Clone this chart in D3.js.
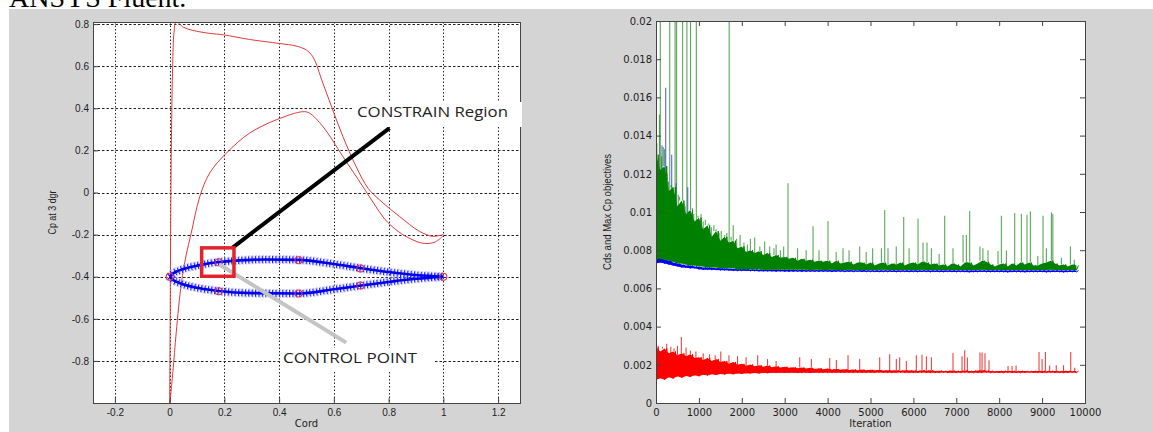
<!DOCTYPE html>
<html>
<head>
<meta charset="utf-8">
<script src="https://cdn.jsdelivr.net/npm/d3@7"></script>
<style>
  body { margin: 0; background: #fff; }
  svg { display: block; font-family: "DejaVu Sans", sans-serif; }
</style>
</head>
<body>
<svg width="1153" height="432"></svg>
<script>
// ---------- left chart: Cp distribution and airfoil ----------
const cordTicks = [-0.2, 0, 0.2, 0.4, 0.6, 0.8, 1, 1.2]
const cpTicks = [-0.8, -0.6, -0.4, -0.2, 0, 0.2, 0.4, 0.6, 0.8]

// Cp curve that peaks near the leading edge
const cpUpper = [[0, -1.0], [0.002, -0.6], [0.004, -0.1], [0.007, 0.3], [0.011, 0.6], [0.016, 0.76],
  [0.024, 0.812], [0.05, 0.785], [0.085, 0.77], [0.146, 0.756], [0.197, 0.749], [0.292, 0.727],
  [0.401, 0.708], [0.462, 0.696], [0.499, 0.677], [0.523, 0.645], [0.56, 0.519], [0.596, 0.392],
  [0.633, 0.266], [0.681, 0.124], [0.725, 0.02], [0.766, -0.034], [0.839, -0.113], [0.912, -0.184],
  [0.96, -0.208], [1.0, -0.2]]
// Cp curve with the mid-chord peak
const cpLower = [[0.001, -1.0], [0.012, -0.85], [0.024, -0.666], [0.043, -0.429], [0.06, -0.3],
  [0.079, -0.192], [0.11, -0.02], [0.146, 0.092], [0.207, 0.187], [0.292, 0.282], [0.389, 0.345],
  [0.487, 0.384], [0.511, 0.377], [0.56, 0.313], [0.633, 0.171], [0.705, 0.03], [0.745, -0.05],
  [0.785, -0.125], [0.835, -0.185], [0.885, -0.223], [0.93, -0.242], [0.97, -0.235], [1.0, -0.205]]

const foilUpper = [[0, -0.4], [0.012, -0.385], [0.036, -0.37], [0.11, -0.345], [0.18, -0.33],
  [0.23, -0.325], [0.35, -0.318], [0.47, -0.32], [0.6, -0.34], [0.7, -0.36], [0.8, -0.378],
  [0.9, -0.392], [1.0, -0.4]]
const foilLower = [[0, -0.4], [0.012, -0.415], [0.036, -0.43], [0.11, -0.455], [0.18, -0.468],
  [0.3, -0.478], [0.47, -0.48], [0.6, -0.46], [0.7, -0.442], [0.8, -0.425], [0.9, -0.41], [1.0, -0.4]]
const controlPoints = [[0, -0.4], [0.179, -0.331], [0.471, -0.322], [0.697, -0.361], [1.0, -0.4],
  [0.179, -0.469], [0.471, -0.48], [0.697, -0.442]]

// ---------- right chart: objectives history (values x 1e-3) ----------
const iterTicks = [0, 1000, 2000, 3000, 4000, 5000, 6000, 7000, 8000, 9000, 10000]
const objTicks = [0, 2, 4, 6, 8, 10, 12, 14, 16, 18, 20]
const iters = d3.range(0, 9900, 100)

const greenHi = [13.0, 12.2, 12.4, 11.1, 11.3, 10.3, 10.6, 9.9, 10.1, 9.5,
  9.7, 9.1, 9.3, 8.7, 9.0, 8.5, 8.7, 8.4, 8.5, 8.1,
  8.2, 7.9, 8.0, 7.85, 7.95, 7.75, 7.85, 7.65, 7.75, 7.6,
  7.65, 7.55, 7.6, 7.45, 7.55, 7.45, 7.5, 7.4, 7.45, 7.4,
  7.45, 7.3, 7.45, 7.3, 7.35, 7.4, 7.25, 7.35, 7.35, 7.25,
  7.35, 7.2, 7.3, 7.35, 7.2, 7.3, 7.25, 7.35, 7.2, 7.3,
  7.35, 7.25, 7.4, 7.35, 7.25, 7.3, 7.2, 7.25, 7.15, 7.3,
  7.25, 7.15, 7.35, 7.35, 7.2, 7.3, 7.45, 7.4, 7.25, 7.15,
  7.25, 7.3, 7.15, 7.3, 7.2, 7.35, 7.25, 7.35, 7.2, 7.2,
  7.3, 7.35, 7.45, 7.3, 7.2, 7.25, 7.15, 7.25, 7.2]
const greenLo = [7.5, 7.55, 7.5, 7.45, 7.4, 7.3, 7.3, 7.25, 7.2, 7.2,
  7.15, 7.15, 7.1, 7.1, 7.1, 7.05, 7.05, 7.05, 7.05, 7.0,
  7.0, 7.0, 7.0, 7.0, 7.0, 6.98, 6.98, 6.98, 6.98, 6.98,
  6.97, 6.97, 6.98, 6.97, 6.97, 6.97, 6.96, 6.97, 6.97, 6.96,
  6.96, 6.97, 6.96, 6.96, 6.96, 6.97, 6.96, 6.96, 6.96, 6.96,
  6.96, 6.96, 6.96, 6.97, 6.96, 6.96, 6.96, 6.96, 6.96, 6.96,
  6.96, 6.96, 6.97, 6.96, 6.96, 6.96, 6.96, 6.96, 6.96, 6.96,
  6.96, 6.96, 6.96, 6.96, 6.96, 6.96, 6.97, 6.96, 6.96, 6.96,
  6.96, 6.96, 6.96, 6.96, 6.96, 6.96, 6.96, 6.96, 6.96, 6.96,
  6.96, 6.96, 6.97, 6.96, 6.96, 6.96, 6.96, 6.96, 6.96]
const blueHi = [7.6, 7.6, 7.5, 7.45, 7.35, 7.3, 7.25, 7.2, 7.2, 7.15,
  7.12, 7.1, 7.1, 7.08, 7.06, 7.05, 7.04, 7.03, 7.02, 7.0,
  7.0, 7.0, 6.99, 6.99, 6.98, 6.98, 6.97, 6.97, 6.97, 6.96,
  6.96, 6.96, 6.96, 6.95, 6.96, 6.95, 6.95, 6.95, 6.95, 6.95,
  6.95, 6.95, 6.95, 6.95, 6.94, 6.95, 6.94, 6.94, 6.95, 6.94,
  6.94, 6.94, 6.94, 6.94, 6.94, 6.94, 6.94, 6.94, 6.94, 6.94,
  6.94, 6.94, 6.94, 6.94, 6.94, 6.94, 6.94, 6.94, 6.94, 6.94,
  6.94, 6.94, 6.94, 6.94, 6.94, 6.94, 6.94, 6.94, 6.94, 6.94,
  6.94, 6.94, 6.94, 6.94, 6.94, 6.94, 6.94, 6.94, 6.94, 6.94,
  6.94, 6.94, 6.94, 6.94, 6.94, 6.94, 6.94, 6.94, 6.94]
const blueLo = [7.3, 7.35, 7.3, 7.25, 7.2, 7.15, 7.1, 7.08, 7.05, 7.05,
  7.0, 6.98, 6.98, 6.97, 6.96, 6.95, 6.95, 6.94, 6.93, 6.92,
  6.92, 6.92, 6.91, 6.91, 6.9, 6.9, 6.9, 6.9, 6.89, 6.9,
  6.89, 6.88, 6.89, 6.89, 6.88, 6.88, 6.89, 6.88, 6.88, 6.88,
  6.88, 6.87, 6.88, 6.88, 6.87, 6.88, 6.87, 6.88, 6.87, 6.87,
  6.87, 6.87, 6.86, 6.87, 6.87, 6.87, 6.86, 6.87, 6.87, 6.86,
  6.87, 6.86, 6.87, 6.87, 6.86, 6.87, 6.86, 6.86, 6.87, 6.86,
  6.86, 6.87, 6.86, 6.85, 6.86, 6.86, 6.87, 6.86, 6.86, 6.86,
  6.86, 6.86, 6.85, 6.86, 6.86, 6.86, 6.85, 6.86, 6.86, 6.86,
  6.86, 6.85, 6.86, 6.86, 6.86, 6.85, 6.86, 6.86, 6.86]
const redHi = [2.9, 2.7, 2.85, 2.6, 2.7, 2.5, 2.6, 2.45, 2.55, 2.35,
  2.4, 2.25, 2.35, 2.2, 2.3, 2.15, 2.2, 2.05, 2.15, 2.0,
  2.05, 1.95, 2.02, 1.92, 1.98, 1.9, 1.96, 1.87, 1.92, 1.86,
  1.9, 1.84, 1.87, 1.82, 1.86, 1.8, 1.84, 1.78, 1.82, 1.77,
  1.8, 1.75, 1.78, 1.74, 1.77, 1.73, 1.76, 1.72, 1.75, 1.72,
  1.74, 1.71, 1.73, 1.7, 1.72, 1.7, 1.72, 1.69, 1.71, 1.7,
  1.7, 1.68, 1.72, 1.69, 1.71, 1.67, 1.69, 1.67, 1.68, 1.7,
  1.68, 1.67, 1.7, 1.67, 1.68, 1.7, 1.72, 1.69, 1.68, 1.66,
  1.67, 1.68, 1.67, 1.68, 1.66, 1.68, 1.67, 1.66, 1.67, 1.68,
  1.68, 1.66, 1.68, 1.67, 1.66, 1.67, 1.68, 1.66, 1.67]
const redLo = [1.2, 1.3, 1.22, 1.35, 1.28, 1.4, 1.32, 1.42, 1.36, 1.45,
  1.4, 1.48, 1.44, 1.51, 1.47, 1.52, 1.49, 1.54, 1.5, 1.55,
  1.52, 1.56, 1.54, 1.57, 1.55, 1.58, 1.56, 1.58, 1.57, 1.58,
  1.57, 1.58, 1.59, 1.57, 1.58, 1.59, 1.57, 1.59, 1.59, 1.58,
  1.59, 1.58, 1.59, 1.58, 1.59, 1.59, 1.58, 1.59, 1.59, 1.59,
  1.59, 1.58, 1.6, 1.59, 1.59, 1.58, 1.59, 1.6, 1.59, 1.58,
  1.59, 1.59, 1.6, 1.58, 1.59, 1.59, 1.58, 1.6, 1.59, 1.59,
  1.58, 1.59, 1.6, 1.59, 1.58, 1.59, 1.59, 1.6, 1.58, 1.59,
  1.59, 1.58, 1.6, 1.59, 1.59, 1.58, 1.59, 1.6, 1.59, 1.59,
  1.58, 1.59, 1.6, 1.59, 1.59, 1.58, 1.59, 1.6, 1.59]

// spikes: [iteration, value]
const greenSpikes = [[20, 13.6], [60, 12.8], [80, 15.1], [100, 21], [130, 12.9], [170, 13.4], [200, 13.3],
  [240, 12.2], [260, 12.0], [290, 11.6], [320, 21], [350, 11.4], [380, 11.2], [410, 11.0], [445, 21],
  [480, 21], [520, 10.9], [550, 10.8], [580, 10.6], [620, 21], [650, 10.4], [680, 10.3], [720, 21],
  [760, 10.1], [805, 21], [850, 10.2], [880, 9.9], [940, 21], [980, 9.8], [1050, 9.9], [1100, 9.5],
  [1150, 9.6], [1230, 9.4], [1290, 9.2], [1350, 9.3], [1400, 9.1], [1470, 8.9], [1520, 9.0],
  [1600, 8.8], [1650, 8.9], [1705, 21], [1750, 8.7], [1800, 9.3], [1880, 8.6], [1960, 8.8],
  [2050, 8.4], [2130, 8.3], [2200, 8.6], [2300, 8.67], [2420, 8.2], [2533, 8.45], [2650, 8.2],
  [2750, 8.1], [2800, 8.3], [2900, 8.0], [2976, 8.2], [3077, 11.5], [3300, 8.1], [3500, 8.0],
  [3660, 9.25], [3800, 8.0], [4010, 9.53], [4200, 7.9], [4359, 8.1], [4500, 8.0], [4748, 8.2],
  [4900, 7.9], [5050, 8.1], [5254, 8.1], [5331, 10.1], [5408, 8.1], [5600, 8.2], [5774, 9.74],
  [5900, 8.1], [6108, 9.65], [6224, 8.4], [6317, 8.4], [6419, 8.1], [6600, 7.8], [6730, 9.8],
  [6923, 8.1], [7157, 8.8], [7235, 8.8], [7312, 10.05], [7551, 8.2], [7620, 8.1], [7739, 8.0],
  [7972, 7.96], [8051, 9.8], [8168, 7.98], [8361, 9.95], [8517, 9.9], [8648, 9.85], [8727, 10.04],
  [8900, 7.7], [9021, 9.8], [9100, 8.1], [9217, 9.98], [9250, 9.9], [9450, 7.6], [9660, 8.2], [9750, 7.5]]
const blueSpikes = [[0, 15.0], [140, 13.5], [226, 16.5], [366, 13.0], [470, 11.5], [740, 11.3]]
const redSpikes = [[50, 3.0], [150, 2.95], [250, 3.1], [345, 2.95], [420, 2.85], [500, 3.0], [590, 3.45],
  [700, 2.9], [800, 2.75], [930, 2.7], [1100, 2.6], [1250, 2.55], [1380, 2.5], [1510, 2.7], [1700, 2.5],
  [1900, 2.45], [2100, 2.4], [2370, 2.5], [2600, 2.3], [2800, 2.2], [3350, 2.4], [3622, 2.3],
  [4049, 2.35], [4204, 2.25], [4476, 2.5], [4748, 2.3], [5214, 2.4], [5447, 2.55], [5602, 2.3],
  [5680, 2.4], [5835, 2.2], [6068, 2.5], [6200, 2.53], [6303, 2.45], [6420, 2.4], [6923, 2.62],
  [7133, 2.45], [7196, 2.76], [7258, 2.38], [7552, 2.65], [7600, 2.65], [7669, 2.6], [7763, 2.24],
  [8206, 1.94], [8300, 1.94], [8393, 1.96], [8928, 2.67], [9000, 2.3], [9077, 2.67], [9177, 1.96],
  [9330, 1.98], [9500, 1.98], [9667, 2.67], [9760, 1.85]]

// ---------- drawing ----------
const svg = d3.select('svg')

svg.append('rect').attr('x', 9).attr('y', 9).attr('width', 1144).attr('height', 423).attr('fill', '#d4d4d4')
// caption text from the page above, cut by the crop as in the source
svg.append('text')
  .attr('x', 9).attr('y', 7)
  .attr('font-family', '"Liberation Serif", serif').attr('font-size', 28)
  .text('ANSYS Fluent.')

const numFmt = d => String(d)

// left panel
const L = { left: 93, right: 520, top: 22, bottom: 403 }
const xL = d3.scaleLinear().domain([-0.28, 1.28]).range([L.left, L.right])
const yL = d3.scaleLinear().domain([-1.0, 0.81]).range([L.bottom, L.top])

svg.append('clipPath').attr('id', 'clipL').append('rect')
  .attr('x', L.left).attr('y', L.top).attr('width', L.right - L.left).attr('height', L.bottom - L.top)
svg.append('rect')
  .attr('x', L.left).attr('y', L.top).attr('width', L.right - L.left).attr('height', L.bottom - L.top)
  .attr('fill', '#fff')

const gridL = svg.append('g').attr('stroke', '#222').attr('stroke-width', 1)
gridL.selectAll('line.v').data(cordTicks).join('line').classed('v', true)
  .attr('x1', d => Math.round(xL(d)) + 0.5).attr('x2', d => Math.round(xL(d)) + 0.5)
  .attr('y1', L.top).attr('y2', L.bottom)
  .attr('stroke-dasharray', '1.5,2')
gridL.selectAll('line.h').data(cpTicks).join('line').classed('h', true)
  .attr('y1', d => Math.round(yL(d)) + 0.5).attr('y2', d => Math.round(yL(d)) + 0.5)
  .attr('x1', L.left).attr('x2', L.right)
  .attr('stroke-dasharray', '2.5,2')

const plotL = svg.append('g').attr('clip-path', 'url(#clipL)')
const lineL = d3.line().x(d => xL(d[0])).y(d => yL(d[1])).curve(d3.curveCatmullRom)

plotL.selectAll('path.cp').data([cpUpper, cpLower]).join('path').classed('cp', true)
  .attr('d', lineL).attr('fill', 'none').attr('stroke', '#e2383c').attr('stroke-width', 1)

const foilLine = d3.line().x(d => xL(d[0])).y(d => yL(d[1])).curve(d3.curveMonotoneX)
// '+' markers: halo, crossbars, then the line itself
plotL.selectAll('path.halo').data([foilUpper, foilLower]).join('path').classed('halo', true)
  .attr('d', foilLine).attr('fill', 'none').attr('stroke', '#9c9cff').attr('stroke-width', 9)
  .attr('stroke-dasharray', '2.2,1.2').attr('opacity', 0.55)
plotL.selectAll('path.bar').data([foilUpper, foilLower]).join('path').classed('bar', true)
  .attr('d', foilLine).attr('fill', 'none').attr('stroke', '#1a1aff').attr('stroke-width', 7)
  .attr('stroke-dasharray', '1,2.4')
plotL.selectAll('path.foil').data([foilUpper, foilLower]).join('path').classed('foil', true)
  .attr('d', foilLine).attr('fill', 'none').attr('stroke', '#0000ee').attr('stroke-width', 2.6)

plotL.selectAll('circle.cpt').data(controlPoints).join('circle').classed('cpt', true)
  .attr('cx', d => xL(d[0])).attr('cy', d => yL(d[1])).attr('r', 3.5)
  .attr('fill', 'none').attr('stroke', '#e0304a').attr('stroke-width', 1.1)

// axes left
const axL = svg.append('g').attr('font-family', '"DejaVu Sans", sans-serif')
axL.append('g').attr('transform', `translate(0,${L.bottom})`)
  .call(d3.axisBottom(xL).tickValues(cordTicks).tickFormat(numFmt).tickSizeInner(-5).tickSizeOuter(0).tickPadding(6))
axL.append('g').attr('transform', `translate(${L.left},0)`)
  .call(d3.axisLeft(yL).tickValues(cpTicks).tickFormat(numFmt).tickSizeInner(-5).tickSizeOuter(0).tickPadding(4))
axL.selectAll('.domain').remove()
axL.selectAll('text').attr('font-size', 10).attr('fill', '#1e1e1e')
axL.selectAll('.tick line').attr('stroke', '#444')
svg.append('rect')
  .attr('x', L.left + 0.5).attr('y', L.top + 0.5).attr('width', L.right - L.left).attr('height', L.bottom - L.top)
  .attr('fill', 'none').attr('stroke', '#444').attr('stroke-width', 1)

svg.append('text').attr('x', (L.left + L.right) / 2).attr('y', 427)
  .attr('text-anchor', 'middle').attr('font-size', 10).attr('fill', '#1e1e1e').text('Cord')
svg.append('text').attr('transform', `translate(56,${(L.top + L.bottom) / 2}) rotate(-90)`)
  .attr('text-anchor', 'middle').attr('font-family', '"Liberation Sans", Arial, sans-serif')
  .attr('font-size', 10.5).attr('textLength', 44).attr('lengthAdjust', 'spacingAndGlyphs')
  .attr('fill', '#1e1e1e').text('Cp at 3 dgr')

// annotations on left chart
svg.append('line')
  .attr('x1', xL(0.229)).attr('y1', yL(-0.263)).attr('x2', xL(0.803)).attr('y2', yL(0.306))
  .attr('stroke', '#000').attr('stroke-width', 4)
svg.append('line')
  .attr('x1', xL(0.182)).attr('y1', yL(-0.342)).attr('x2', xL(0.645)).attr('y2', yL(-0.713))
  .attr('stroke', '#c4c4c4').attr('stroke-width', 4)
svg.append('rect')
  .attr('x', xL(0.117)).attr('y', yL(-0.263)).attr('width', xL(0.235) - xL(0.117)).attr('height', yL(-0.398) - yL(-0.263))
  .attr('fill', 'none').attr('stroke', '#e4222b').attr('stroke-width', 3.5)

svg.append('rect').attr('x', 352).attr('y', 102).attr('width', 170).attr('height', 25).attr('fill', '#fff')
svg.append('text').attr('x', 357).attr('y', 117)
  .attr('font-family', '"Open Sans", sans-serif').attr('font-size', 14).attr('fill', '#222')
  .attr('textLength', 151).attr('lengthAdjust', 'spacingAndGlyphs').text('CONSTRAIN Region')
svg.append('rect').attr('x', 280).attr('y', 348).attr('width', 155).attr('height', 24).attr('fill', '#fff')
svg.append('text').attr('x', 283).attr('y', 363)
  .attr('font-family', '"Open Sans", sans-serif').attr('font-size', 14).attr('fill', '#222')
  .attr('textLength', 134).attr('lengthAdjust', 'spacingAndGlyphs').text('CONTROL POINT')

// right panel
const R = { left: 656, right: 1085, top: 21, bottom: 403 }
const xR = d3.scaleLinear().domain([0, 10000]).range([R.left, R.right])
const yR = d3.scaleLinear().domain([0, 20]).range([R.bottom, R.top])

svg.append('clipPath').attr('id', 'clipR').append('rect')
  .attr('x', R.left).attr('y', R.top).attr('width', R.right - R.left).attr('height', R.bottom - R.top)
svg.append('rect')
  .attr('x', R.left).attr('y', R.top).attr('width', R.right - R.left).attr('height', R.bottom - R.top)
  .attr('fill', '#fff')

const plotR = svg.append('g').attr('clip-path', 'url(#clipR)')

function drawSeries(lo, hi, spikes, color, spikeColor) {
  const g = plotR.append('g')
  const area = d3.area().x((d, i) => xR(iters[i])).y0((d, i) => yR(lo[i])).y1(d => yR(d))
  g.append('path').attr('d', area(hi)).attr('fill', color)
  // zigzag between the bin's low and high
  const pts = []
  iters.forEach((it, i) => { pts.push([it, lo[i]]); pts.push([it + 50, hi[i]]) })
  g.append('path')
    .attr('d', d3.line().x(d => xR(d[0])).y(d => yR(d[1]))(pts))
    .attr('fill', 'none').attr('stroke', color).attr('stroke-width', 1)
  g.selectAll('line').data(spikes).join('line')
    .attr('x1', d => xR(d[0])).attr('x2', d => xR(d[0]))
    .attr('y1', d => yR(hi[Math.min(hi.length - 1, Math.round(d[0] / 100))]))
    .attr('y2', d => yR(d[1]))
    .attr('stroke', spikeColor).attr('stroke-width', 1.1)
}
drawSeries(redLo, redHi, redSpikes, '#ff0000', 'rgba(230,20,20,0.8)')
drawSeries(blueLo, blueHi, blueSpikes, '#0000ff', 'rgba(40,40,230,0.75)')
drawSeries(greenLo, greenHi, greenSpikes, '#008000', 'rgba(20,130,20,0.7)')

const axR = svg.append('g')
axR.append('g').attr('transform', `translate(0,${R.bottom})`)
  .call(d3.axisBottom(xR).tickValues(iterTicks).tickFormat(numFmt).tickSizeInner(-5).tickSizeOuter(0).tickPadding(6))
axR.append('g').attr('transform', `translate(0,${R.top})`)
  .call(d3.axisTop(xR).tickValues(iterTicks).tickFormat('').tickSizeInner(-5).tickSizeOuter(0))
axR.append('g').attr('transform', `translate(${R.left},0)`)
  .call(d3.axisLeft(yR).tickValues(objTicks).tickFormat(d => String(d / 1000)).tickSizeInner(-5).tickSizeOuter(0).tickPadding(4))
axR.append('g').attr('transform', `translate(${R.right},0)`)
  .call(d3.axisRight(yR).tickValues(objTicks).tickFormat('').tickSizeInner(-5).tickSizeOuter(0))
axR.selectAll('.domain').remove()
axR.selectAll('text').attr('font-size', 10).attr('fill', '#1e1e1e').attr('font-family', '"DejaVu Sans", sans-serif')
axR.selectAll('.tick line').attr('stroke', '#444')
svg.append('rect')
  .attr('x', R.left + 0.5).attr('y', R.top + 0.5).attr('width', R.right - R.left).attr('height', R.bottom - R.top)
  .attr('fill', 'none').attr('stroke', '#444').attr('stroke-width', 1)

svg.append('text').attr('x', (R.left + R.right) / 2).attr('y', 427)
  .attr('text-anchor', 'middle').attr('font-size', 10).attr('fill', '#1e1e1e').text('Iteration')
svg.append('text').attr('transform', `translate(611,${(R.top + R.bottom) / 2}) rotate(-90)`)
  .attr('text-anchor', 'middle').attr('font-family', '"Liberation Sans", Arial, sans-serif')
  .attr('font-size', 10.5).attr('textLength', 116).attr('lengthAdjust', 'spacingAndGlyphs')
  .attr('fill', '#1e1e1e').text('Cds and Max Cp objectives')
</script>
</body>
</html>
